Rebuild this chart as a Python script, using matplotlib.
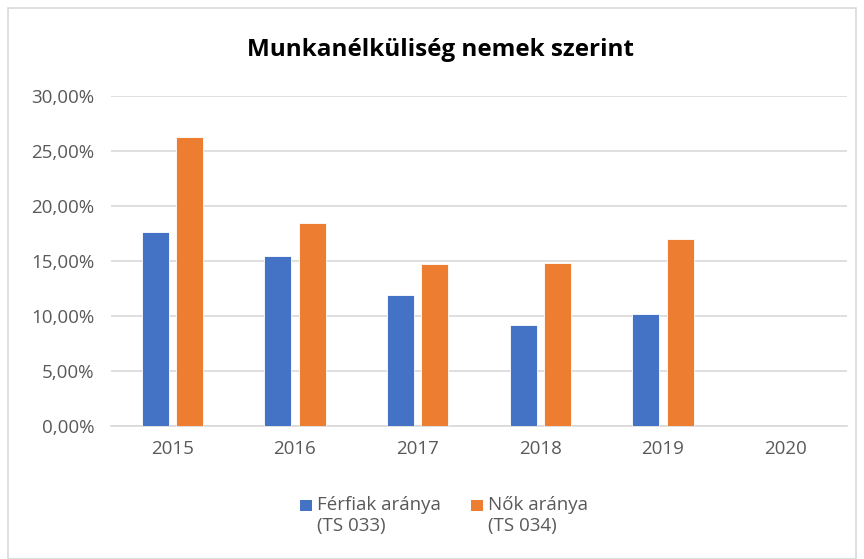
import numpy as np
import matplotlib
matplotlib.use("Agg")
import matplotlib.pyplot as plt
from matplotlib.patches import Rectangle
from matplotlib.ticker import FuncFormatter

years = ["2015", "2016", "2017", "2018", "2019", "2020"]
ferfiak = [17.65, 15.5, 11.92, 9.22, 10.22, np.nan]
nok = [26.27, 18.5, 14.74, 14.86, 16.99, np.nan]
series_labels = ["Férfiak aránya\n(TS 033)", "Nők aránya\n(TS 034)"]
title = "Munkanélküliség nemek szerint"

blue = "#4472C4"
orange = "#ED7D31"
grey_text = "#595959"

plt.rcParams['font.family'] = ['Open Sans', 'DejaVu Sans']

fig = plt.figure(figsize=(8.64, 5.59), dpi=100)
ax = fig.add_axes([111/864, 1-426/559, (847-111)/864, (426-96.3)/559])

x = np.arange(len(years))
w = 0.22
off = 0.139
ax.bar(x - off, ferfiak, w, color=blue, edgecolor="white", linewidth=0.6, zorder=3)
ax.bar(x + off, nok, w, color=orange, edgecolor="white", linewidth=0.6, zorder=3)

ax.set_xlim(-0.5, len(years) - 0.5)
ax.set_ylim(0, 30)
ax.set_yticks(np.arange(0, 31, 5))
ax.yaxis.set_major_formatter(FuncFormatter(lambda v, p: f"{v:.2f}%".replace(".", ",")))
ax.set_xticks(x)
ax.set_xticklabels(years)
ax.grid(axis="y", color="#d9d9d9", linewidth=1.2, zorder=0)
for s in ["top", "right", "left"]:
    ax.spines[s].set_visible(False)
ax.spines["bottom"].set_color("#d9d9d9")
ax.spines["bottom"].set_linewidth(1.2)
ax.tick_params(axis="both", length=0, labelsize=13.5, labelcolor=grey_text)
ax.tick_params(axis="x", pad=10)
ax.tick_params(axis="y", pad=12)

fig.text(440/864, 1-50/559, title, ha="center", va="center", fontsize=17.5, fontweight="bold",
         color="black", family=["Open Sans", "DejaVu Sans"])

# legend: square aligned with first text line
legend_items = [(blue, series_labels[0], 300), (orange, series_labels[1], 471)]
for col, lab, xpx in legend_items:
    fig.patches.append(Rectangle((xpx/864, 1-511/559), 11.5/864, 11.5/559,
                                 transform=fig.transFigure, facecolor=col, edgecolor="none"))
    fig.text((xpx + 17)/864, 1-496/559, lab, ha="left", va="top", fontsize=13.5,
             color=grey_text, linespacing=1.25)

fig.patches.append(Rectangle((8/864, 0.0), 1 - 16/864, 1 - 8/559, transform=fig.transFigure,
                             fill=False, edgecolor="#d9d9d9", linewidth=1.2))

fig.savefig("out.png", dpi=100)
